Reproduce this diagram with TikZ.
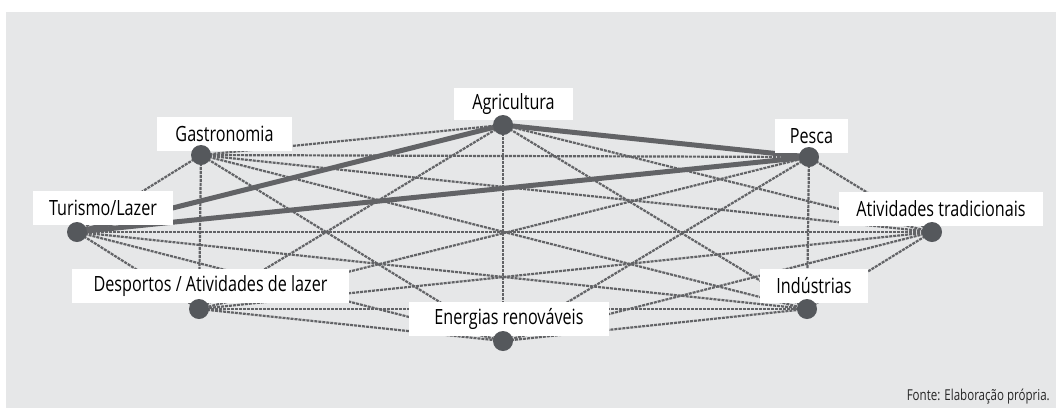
\documentclass[tikz,border=0pt]{standalone}
\usepackage{fontspec}
\setmainfont{Open Sans}[FakeStretch=0.77]
\definecolor{bg}{HTML}{E6E7E8}
\definecolor{ln}{HTML}{626366}
\definecolor{dot}{HTML}{55585C}
\begin{document}
\begin{tikzpicture}[x=1pt,y=-1pt,
  dotnode/.style={circle,fill=dot,inner sep=0pt,minimum size=20pt},
  lbl/.style={fill=white,inner sep=0pt,minimum height=34pt,font=\fontsize{21}{25}\selectfont,text=black},
  weak/.style={draw=ln,line width=2.2pt,dash pattern=on 3pt off 1pt},
  strong/.style={draw=ln,line width=5pt},
  note/.style={font=\fontsize{15}{17}\selectfont,text=black!85,inner sep=0pt}]
\useasboundingbox (0,0) rectangle (1056,408);
\fill[bg] (6,12) rectangle (1056,408);
% positions
\coordinate (a) at (503,125);
\coordinate (g) at (201,155);
\coordinate (p) at (809,157);
\coordinate (t) at (77,232);
\coordinate (at) at (932,232);
\coordinate (d) at (199,309);
\coordinate (e) at (503,341);
\coordinate (i) at (807,309);
% weak connections
\foreach \u/\v in {a/g,a/at,a/d,a/e,a/i,
                   g/p,g/t,g/at,g/d,g/e,g/i,
                   p/at,p/d,p/e,p/i,
                   t/at,t/d,t/e,t/i,
                   at/d,at/e,at/i,
                   d/e,d/i,e/i}
  \draw[weak] (\u) -- (\v);
% strong connections
\draw[strong] (t) -- (a);
\draw[strong] (t) -- (p);
\draw[strong] (a) -- (p);
% labels
\node[lbl,minimum width=119pt,minimum height=32pt] (la) at (513.5,104) {Agricultura};
\node[lbl,minimum width=135pt] (lg) at (224.5,134) {Gastronomia};
\node[lbl,minimum width=73pt] (lp) at (811.5,136) {Pesca};
\node[lbl,minimum width=140pt] (lt) at (103,208) {Turismo/Lazer};
\node[lbl,minimum width=204pt] (lat) at (941,209) {Atividades tradicionais};
\node[lbl,minimum width=277pt] (ld) at (210.5,286) {Desportos / Atividades de lazer};
\node[lbl,minimum width=200pt] (le) at (509,319) {Energias renováveis};
\node[lbl,minimum width=108pt] (li) at (814,286) {Indústrias};
% dots on top
\foreach \n in {a,g,p,t,at,d,e,i}
  \node[dotnode] (n\n) at (\n) {};
\node[note,anchor=east] (src) at (1050,397) {Fonte: Elaboração própria.};
\end{tikzpicture}
\end{document}
